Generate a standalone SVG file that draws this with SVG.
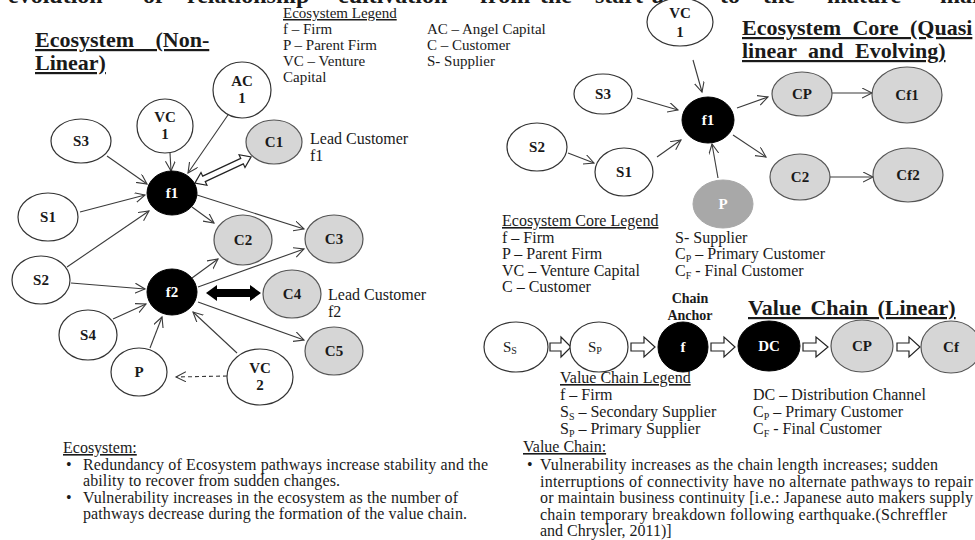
<svg xmlns="http://www.w3.org/2000/svg" width="975" height="540" viewBox="0 0 975 540">
<style>
text{font-family:"Liberation Serif","Times New Roman",serif;fill:#1a1a1a}
.t{font-size:16px}
.s{font-size:15px}
.u{text-decoration:underline}
.h{font-size:22px;font-weight:bold;text-decoration:underline}
.n{font-size:15px;font-weight:bold;text-anchor:middle}
.w{fill:#fff}
.e{fill:#fff;stroke:#333;stroke-width:1.2}
.g{fill:#d6d6d6;stroke:#555;stroke-width:1.2}
.b{fill:#000;stroke:#000}
.dg{fill:#a8a8a8;stroke:#a8a8a8}
.c{stroke:#3a3a3a;stroke-width:1.1;fill:none;marker-end:url(#ah)}
.d{stroke-dasharray:4 3}
.ha{fill:#fff;stroke:#222;stroke-width:1.2}
</style>
<defs>
<marker id="ah" markerUnits="userSpaceOnUse" markerWidth="12" markerHeight="12" refX="10" refY="5" orient="auto">
<path d="M0,0 L10,5 L0,10" fill="none" stroke="#3a3a3a" stroke-width="1.1"/>
</marker>
</defs>

<!-- clipped heading -->
<text font-size="24" font-weight="bold" y="3"><tspan x="8">evolution</tspan><tspan x="143">of</tspan><tspan x="187">relationship</tspan><tspan x="338">cultivation</tspan><tspan x="480">from</tspan><tspan x="540">the</tspan><tspan x="595">start-up</tspan><tspan x="720">to</tspan><tspan x="763">the</tspan><tspan x="827">mature</tspan><tspan x="940">market</tspan></text>

<!-- Left titles / legend -->
<g id="title-ecosystem">
<text class="h" x="35" y="47" word-spacing="16">Ecosystem (Non-</text>
<text class="h" x="35" y="70">Linear)</text>
</g>
<g id="legend-ecosystem">
<text class="s u" x="283" y="18">Ecosystem Legend</text>
<text class="s" x="283" y="34">f – Firm</text>
<text class="s" x="283" y="50">P – Parent Firm</text>
<text class="s" x="283" y="66">VC – Venture</text>
<text class="s" x="283" y="82">Capital</text>
<text class="s" x="427" y="34">AC – Angel Capital</text>
<text class="s" x="427" y="50">C – Customer</text>
<text class="s" x="427" y="66">S- Supplier</text>
</g>

<!-- Left connectors -->
<g id="connectors-left">
<line class="c" x1="107" y1="156" x2="147" y2="184"/>
<line class="c" x1="170" y1="153" x2="171" y2="171"/>
<line class="c" x1="230" y1="112" x2="188" y2="173"/>
<line class="c" x1="80" y1="212" x2="145" y2="195"/>
<line class="c" x1="67" y1="267" x2="149" y2="211"/>
<line class="c" x1="71" y1="283" x2="145" y2="289"/>
<line class="c" x1="192" y1="207" x2="214" y2="223"/>
<line class="c" x1="197" y1="195" x2="304" y2="229"/>
<line class="c" x1="192" y1="278" x2="218" y2="259"/>
<line class="c" x1="198" y1="287" x2="304" y2="249"/>
<line class="c" x1="198" y1="302" x2="304" y2="340"/>
<line class="c" x1="113" y1="319" x2="146" y2="304"/>
<line class="c" x1="150" y1="348" x2="162" y2="317"/>
<line class="c" x1="237" y1="353" x2="193" y2="312"/>
<line class="c d" x1="227" y1="376" x2="176" y2="377"/>
<polygon class="ha" transform="translate(223,170) rotate(-25)" points="-31,0 -21,-7 -21,-3 21,-3 21,-7 31,0 21,7 21,3 -21,3 -21,7"/>
<polygon fill="#000" points="206,293 217,285 217,289 250,289 250,285 261,293 250,301 250,297 217,297 217,301"/>
</g>

<!-- Left nodes -->
<g id="L-S3"><ellipse class="e" cx="81" cy="141" rx="30" ry="22"/><text class="n" x="81" y="146">S3</text></g>
<g id="L-VC1"><ellipse class="e" cx="165" cy="126" rx="28" ry="27"/><text class="n" x="165" y="122">VC</text><text class="n" x="165" y="139">1</text></g>
<g id="L-AC1"><ellipse class="e" cx="242" cy="90" rx="29" ry="28"/><text class="n" x="242" y="86">AC</text><text class="n" x="242" y="103">1</text></g>
<g id="L-C1"><ellipse class="g" cx="274" cy="142" rx="28" ry="22"/><text class="n" x="274" y="147">C1</text></g>
<g id="L-lead1"><text class="t" x="310" y="144">Lead Customer</text><text class="t" x="310" y="161">f1</text></g>
<g id="L-f1"><ellipse class="b" cx="172" cy="193" rx="25" ry="22"/><text class="n w" x="172" y="198">f1</text></g>
<g id="L-S1"><ellipse class="e" cx="48" cy="217" rx="30" ry="24"/><text class="n" x="48" y="222">S1</text></g>
<g id="L-S2"><ellipse class="e" cx="41" cy="280" rx="29" ry="24"/><text class="n" x="41" y="285">S2</text></g>
<g id="L-C2"><ellipse class="g" cx="243" cy="240" rx="29" ry="25"/><text class="n" x="243" y="245">C2</text></g>
<g id="L-C3"><ellipse class="g" cx="334" cy="239" rx="29" ry="24"/><text class="n" x="334" y="244">C3</text></g>
<g id="L-f2"><ellipse class="b" cx="172" cy="292" rx="25" ry="23"/><text class="n w" x="172" y="297">f2</text></g>
<g id="L-C4"><ellipse class="g" cx="292" cy="294" rx="29" ry="24"/><text class="n" x="292" y="299">C4</text></g>
<g id="L-lead2"><text class="t" x="328" y="300">Lead Customer</text><text class="t" x="328" y="317">f2</text></g>
<g id="L-C5"><ellipse class="g" cx="334" cy="351" rx="29" ry="24"/><text class="n" x="334" y="356">C5</text></g>
<g id="L-S4"><ellipse class="e" cx="88" cy="335" rx="29" ry="25"/><text class="n" x="88" y="340">S4</text></g>
<g id="L-P"><ellipse class="e" cx="139" cy="372" rx="28" ry="24"/><text class="n" x="139" y="377">P</text></g>
<g id="L-VC2"><ellipse class="e" cx="260" cy="377" rx="33" ry="28"/><text class="n" x="260" y="373">VC</text><text class="n" x="260" y="390">2</text></g>

<!-- Left bottom text -->
<g id="note-ecosystem">
<text class="t u" x="63" y="453">Ecosystem:</text>
<text class="t" x="66" y="470">•</text>
<text class="t" x="83" y="470" textLength="405">Redundancy of Ecosystem pathways increase stability and the</text>
<text class="t" x="83" y="486" textLength="257">ability to recover from sudden changes.</text>
<text class="t" x="66" y="503">•</text>
<text class="t" x="83" y="503" textLength="375">Vulnerability increases in the ecosystem as the number of</text>
<text class="t" x="83" y="519" textLength="384">pathways decrease during the formation of the value chain.</text>
</g>

<!-- Ecosystem core -->
<g id="title-core">
<text class="h" x="742" y="35" word-spacing="6">Ecosystem Core (Quasi</text>
<text class="h" x="742" y="58" word-spacing="6">linear and Evolving)</text>
</g>
<g id="connectors-core">
<line class="c" x1="693" y1="60" x2="702" y2="92"/>
<line class="c" x1="637" y1="98" x2="678" y2="110"/>
<line class="c" x1="657" y1="157" x2="681" y2="140"/>
<line class="c" x1="568" y1="153" x2="594" y2="163"/>
<line class="c" x1="718" y1="178" x2="712" y2="144"/>
<line class="c" x1="737" y1="108" x2="768" y2="97"/>
<line class="c" x1="733" y1="135" x2="766" y2="157"/>
<line class="c" x1="832" y1="93" x2="872" y2="93"/>
<line class="c" x1="830" y1="177" x2="873" y2="177"/>
</g>
<g id="K-VC1"><ellipse class="e" cx="680" cy="22" rx="33" ry="24"/><text class="n" x="680" y="18">VC</text><text class="n" x="680" y="37">1</text></g>
<g id="K-S3"><ellipse class="e" cx="603" cy="94" rx="29" ry="20"/><text class="n" x="603" y="99">S3</text></g>
<g id="K-S2"><ellipse class="e" cx="537" cy="147" rx="30" ry="24"/><text class="n" x="537" y="152">S2</text></g>
<g id="K-S1"><ellipse class="e" cx="624" cy="172" rx="29" ry="24"/><text class="n" x="624" y="177">S1</text></g>
<g id="K-f1"><ellipse class="b" cx="708" cy="120" rx="26" ry="23"/><text class="n w" x="708" y="125">f1</text></g>
<g id="K-P"><ellipse class="dg" cx="723" cy="204" rx="30" ry="24"/><text class="n w" x="723" y="209">P</text></g>
<g id="K-CP"><ellipse class="g" cx="802" cy="94" rx="30" ry="22"/><text class="n" x="802" y="99">CP</text></g>
<g id="K-Cf1"><ellipse class="g" cx="907" cy="95" rx="35" ry="28"/><text class="n" x="907" y="100">Cf1</text></g>
<g id="K-C2"><ellipse class="g" cx="800" cy="177" rx="30" ry="23"/><text class="n" x="800" y="182">C2</text></g>
<g id="K-Cf2"><ellipse class="g" cx="908" cy="175" rx="35" ry="27"/><text class="n" x="908" y="180">Cf2</text></g>
<g id="legend-core">
<text class="t u" x="502" y="226">Ecosystem Core  Legend</text>
<text class="t" x="502" y="243">f – Firm</text>
<text class="t" x="502" y="259">P – Parent Firm</text>
<text class="t" x="502" y="276">VC – Venture Capital</text>
<text class="t" x="502" y="292">C – Customer</text>
<text class="t" x="675" y="243">S- Supplier</text>
<text class="t" x="675" y="259">C<tspan font-size="10" dy="3">P</tspan><tspan dy="-3"> – Primary Customer</tspan></text>
<text class="t" x="675" y="276">C<tspan font-size="10" dy="3">F</tspan><tspan dy="-3"> - Final Customer</tspan></text>
</g>

<!-- Value chain -->
<g id="label-anchor"><text font-size="14" font-weight="bold" text-anchor="middle" x="690" y="303">Chain</text><text font-size="14" font-weight="bold" text-anchor="middle" x="690" y="320">Anchor</text></g>
<g id="title-chain"><text class="h" x="748" y="315" word-spacing="4">Value Chain (Linear)</text></g>
<g id="connectors-chain">
<polygon class="ha" points="550,343 561,343 561,337 571,347 561,357 561,351 550,351"/>
<polygon class="ha" points="631,343 644,343 644,337 655,347 644,357 644,351 631,351"/>
<polygon class="ha" points="711,343 724,343 724,337 735,347 724,357 724,351 711,351"/>
<polygon class="ha" points="803,343 816,343 816,337 828,347 816,357 816,351 803,351"/>
<polygon class="ha" points="897,343 909,343 909,337 920,347 909,357 909,351 897,351"/>
</g>
<g id="V-Ss"><ellipse class="e" cx="516" cy="347" rx="32" ry="25"/><text font-size="15" x="503" y="352">S<tspan font-size="10" dy="2">S</tspan></text></g>
<g id="V-Sp"><ellipse class="e" cx="599" cy="347" rx="29" ry="25"/><text font-size="15" x="588" y="352">S<tspan font-size="10" dy="2">P</tspan></text></g>
<g id="V-f"><ellipse class="b" cx="683" cy="347" rx="25" ry="25"/><text class="n w" x="683" y="352">f</text></g>
<g id="V-DC"><ellipse class="b" cx="769" cy="346" rx="31" ry="25"/><text class="n w" x="769" y="351">DC</text></g>
<g id="V-CP"><ellipse class="g" cx="862" cy="346" rx="31" ry="26"/><text class="n" x="862" y="351">CP</text></g>
<g id="V-Cf"><ellipse class="g" cx="951" cy="347" rx="30" ry="26"/><text class="n" x="951" y="352">Cf</text></g>
<g id="legend-chain">
<text class="t u" x="560" y="383">Value Chain Legend</text>
<text class="t" x="560" y="400">f – Firm</text>
<text class="t" x="560" y="417">S<tspan font-size="10" dy="3">S</tspan><tspan dy="-3"> – Secondary Supplier</tspan></text>
<text class="t" x="560" y="434">S<tspan font-size="10" dy="3">P</tspan><tspan dy="-3"> – Primary Supplier</tspan></text>
<text class="t" x="753" y="400">DC – Distribution Channel</text>
<text class="t" x="753" y="417">C<tspan font-size="10" dy="3">P</tspan><tspan dy="-3"> – Primary Customer</tspan></text>
<text class="t" x="753" y="434">C<tspan font-size="10" dy="3">F</tspan><tspan dy="-3"> - Final Customer</tspan></text>
</g>
<g id="note-chain">
<text class="t u" x="523" y="452">Value Chain:</text>
<text class="t" x="527" y="470">•</text>
<text class="t" x="540" y="470" textLength="398">Vulnerability increases as the chain length increases; sudden</text>
<text class="t" x="540" y="487" textLength="433">interruptions of connectivity have no alternate pathways to repair</text>
<text class="t" x="540" y="503" textLength="433">or maintain business continuity [i.e.: Japanese auto makers supply</text>
<text class="t" x="540" y="520" textLength="407">chain temporary breakdown following earthquake.(Schreffler</text>
<text class="t" x="540" y="536">and Chrysler, 2011)]</text>
</g>
</svg>
